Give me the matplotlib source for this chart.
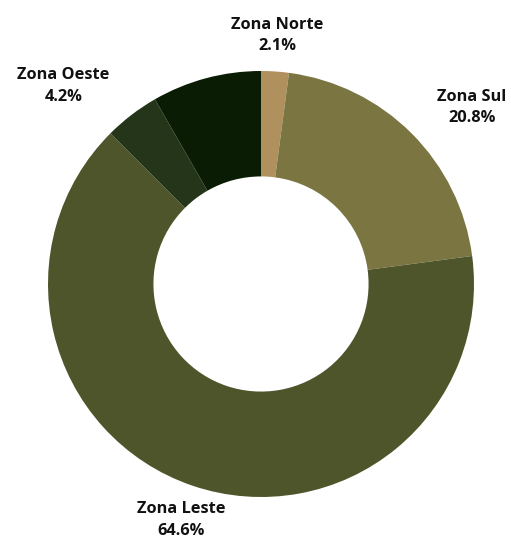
import numpy as np
import matplotlib.pyplot as plt

# Share of records by zone (clockwise from 12 o'clock)
zones = ["Zona Norte", "Zona Sul", "Zona Leste", "Zona Oeste", ""]
shares = [2.1, 20.8, 64.6, 4.2, 8.3]
colors = ["#b0905d", "#7b7542", "#4f552b", "#243519", "#0a1c03"]

W, H = 511, 540
fig = plt.figure(figsize=(W / 100, H / 100), dpi=100)
ax = fig.add_axes([0, 0, 1, 1])

cx, cy, R = 261, 256, 213
wedges, _ = ax.pie(
    shares,
    colors=colors,
    startangle=90,
    counterclock=False,
    radius=R,
    center=(cx, cy),
    frame=True,
    wedgeprops=dict(width=R * 0.495, linewidth=0, antialiased=True),
)
ax.set_xlim(0, W)
ax.set_ylim(0, H)
ax.set_aspect("equal")
ax.axis("off")

# Labels outside the ring at each slice's mid-angle
for w, name, val in zip(wedges, zones, shares):
    if not name:
        continue
    mid = np.deg2rad((w.theta1 + w.theta2) / 2)
    r = R * 1.17
    x = cx + r * np.cos(mid)
    y = cy + r * np.sin(mid)
    c = np.cos(mid)
    ha = "left" if c > 0.5 else ("right" if c < -0.5 else "center")
    ax.text(x, y, f"{name}\n{val}%", ha=ha, va="center", multialignment="center",
            fontsize=11.8, fontweight="bold", family="Open Sans", color="#111111",
            linespacing=1.45)

fig.savefig("out.png", dpi=100, facecolor="white")
